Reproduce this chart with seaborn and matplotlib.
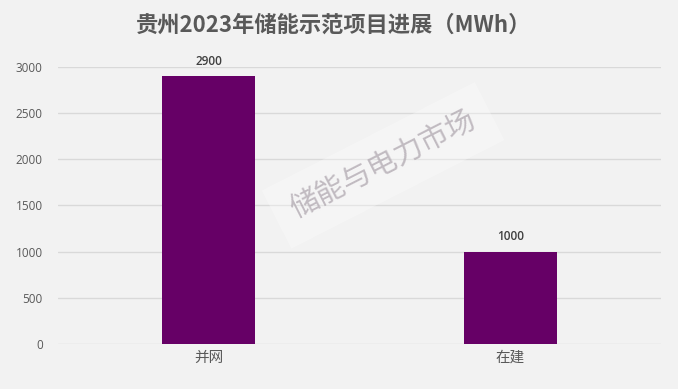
import matplotlib
matplotlib.use('Agg')
import pandas as pd, numpy as np
import matplotlib.pyplot as plt
import seaborn as sns

categories = ['并网', '在建']
values = [2900, 1000]
yticks = [0, 500, 1000, 1500, 2000, 2500, 3000]

sns.set_style("whitegrid")
plt.rcParams['font.family'] = ['Noto Sans CJK SC', 'DejaVu Sans']

df = pd.DataFrame({'status': categories, 'MWh': values})

fig = plt.figure(figsize=(6.78, 3.89), dpi=100, facecolor='#f2f2f2')
ax = fig.add_axes([0.0855, 0.1157, 0.8895, 0.7123])
ax.set_facecolor('#f2f2f2')

sns.barplot(data=df, x='status', y='MWh', color='#660066', saturation=1,
            width=0.31, linewidth=0, ax=ax, zorder=3)

ax.set_ylim(0, 3000)
ax.set_yticks(yticks)
ax.set_xlim(-0.5, 1.5)
ax.grid(axis='y', color='#d9d9d9', linewidth=1, zorder=0)
ax.grid(axis='x', visible=False)
for s in ax.spines.values():
    s.set_visible(False)
ax.set_xlabel('')
ax.set_ylabel('')
ax.tick_params(axis='both', length=0, labelcolor='#595959')
ax.tick_params(axis='y', pad=11, labelsize=8.5)
ax.tick_params(axis='x', pad=5, labelsize=10.5)
for lab in ax.get_yticklabels():
    lab.set_family(['Open Sans'])

for i, v in enumerate(values):
    ax.text(i, v + 90, f'{v}', ha='center', va='bottom', fontsize=8.5,
            color='#404040', family=['Open Sans'], fontweight='semibold')

fig.text(0.492, 0.935, '贵州2023年储能示范项目进展（MWh）', ha='center', va='center',
         fontsize=16, fontweight='bold', color='#595959')

# watermark
fig.text(0.565, 0.575, '储能与电力市场', ha='center', va='center', rotation=27,
         fontsize=21, color='#b0a8b0', alpha=0.75, zorder=10,
         bbox=dict(boxstyle='square,pad=0.6', facecolor='white', alpha=0.3, edgecolor='none'))

fig.savefig('out.png', dpi=100, facecolor=fig.get_facecolor())
